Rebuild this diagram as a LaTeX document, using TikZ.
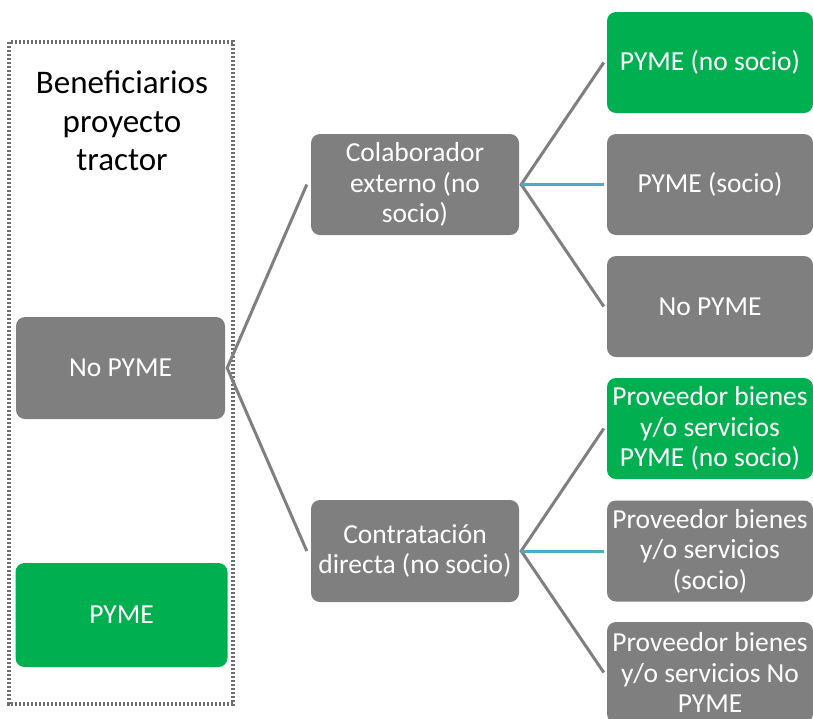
\documentclass[tikz,border=0pt]{standalone}
\usepackage{fontspec}
\setmainfont{Carlito}
\definecolor{boxgreen}{HTML}{00B050}
\definecolor{boxgray}{HTML}{7F7F7F}
\definecolor{framegray}{HTML}{6E6E6E}
\definecolor{linkblue}{HTML}{4BACC6}
\begin{document}
\begin{tikzpicture}[x=1pt,y=-1pt,
  box/.style={rectangle, rounded corners=9pt, draw=none, text=white, align=center,
    inner sep=0pt, font=\fontsize{27.5}{30.5}\selectfont},
  graybox/.style={box, fill=boxgray},
  greenbox/.style={box, fill=boxgreen},
  link/.style={draw=boxgray, line width=3pt},
  bluelink/.style={draw=linkblue, line width=3pt}]
\useasboundingbox (0,0) rectangle (813,718);
\begin{scope}
\clip (0,0) rectangle (813,718);
% dotted group frame
\draw[framegray, line width=3.2pt, dash pattern=on 2.4pt off 1.6pt] (9,42) rectangle (233,704);
\node[align=center, font=\fontsize{33}{38.5}\selectfont] (title) at (122,121) {Beneficiarios\\proyecto\\tractor};
% left column
\node[graybox, minimum width=209pt, minimum height=102pt] (nopyme) at (120.5,368) {No PYME};
\node[greenbox, minimum width=212pt, minimum height=104pt] (pyme) at (121.5,615) {PYME};
% middle column
\node[graybox, minimum width=208pt, minimum height=101pt] (colab) at (415,184.5) {Colaborador\\externo (no\\socio)};
\node[graybox, minimum width=208pt, minimum height=102pt] (contr) at (415,551) {Contratación\\directa (no socio)};
% right column
\node[greenbox, minimum width=206pt, minimum height=101pt] (r1) at (710,62.5) {PYME (no socio)};
\node[graybox, minimum width=206pt, minimum height=101pt] (r2) at (710,184.5) {PYME (socio)};
\node[graybox, minimum width=206pt, minimum height=101pt] (r3) at (710,306.5) {No PYME};
\node[greenbox, minimum width=206pt, minimum height=101pt] (r4) at (710,428.5) {Proveedor bienes\\y/o servicios\\PYME (no socio)};
\node[graybox, minimum width=206pt, minimum height=101pt] (r5) at (710,551) {Proveedor bienes\\y/o servicios\\(socio)};
\node[graybox, minimum width=206pt, minimum height=101pt] (r6) at (710,672.5) {Proveedor bienes\\y/o servicios No\\PYME};
% connectors
\coordinate (c0) at ([xshift=2pt]nopyme.east);
\coordinate (c1) at ([xshift=2pt]colab.east);
\coordinate (c2) at ([xshift=2pt]contr.east);
\draw[link] ([xshift=-4pt]colab.west) -- (c0) -- ([xshift=-4pt]contr.west);
\draw[link] ([xshift=-3pt]r1.west) -- (c1) -- ([xshift=-3pt]r3.west);
\draw[bluelink] (c1) -- ([xshift=-3pt]r2.west);
\draw[link] ([xshift=-3pt]r4.west) -- (c2) -- ([xshift=-3pt]r6.west);
\draw[bluelink] (c2) -- ([xshift=-3pt]r5.west);
\end{scope}
\end{tikzpicture}
\end{document}
